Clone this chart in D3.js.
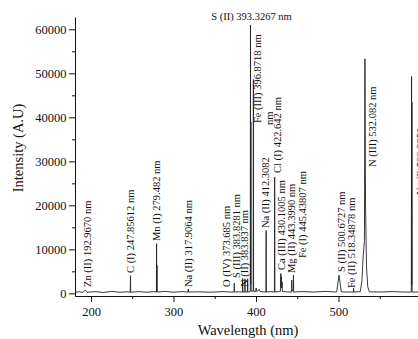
<!DOCTYPE html>
<html>
<head>
<meta charset="utf-8">
<script src="https://cdn.jsdelivr.net/npm/d3@7"></script>
<style>
  html, body { margin: 0; padding: 0; background: #fff; }
  svg { display: block; }
  svg text { font-family: 'Liberation Serif', 'DejaVu Serif', serif !important; }
</style>
</head>
<body>
<svg id="chart" width="418" height="339"></svg>
<script>
// Emission spectrum: [wavelength (nm), intensity (A.U)]
const spectrum = [
  [180.6, 250], [186, 350], [190, 200], [192.97, 700], [196, 250], [205, 400],
  [215, 200], [225, 450], [235, 250], [244, 350], [247.6, 250], [247.86, 4000],
  [248.1, 250], [258, 400], [268, 250], [276, 400], [279.3, 300], [279.48, 11300],
  [279.7, 400], [279.95, 6400], [280.2, 300], [290, 450], [300, 250], [310, 400],
  [317.6, 300], [317.9, 1000], [318.2, 300], [330, 350], [345, 250], [360, 400],
  [370, 300], [373.5, 300], [373.69, 2300], [373.9, 300], [380, 350], [383.6, 300],
  [383.83, 3400], [384.1, 300], [386.5, 300], [386.7, 3300], [386.9, 300],
  [389.7, 300], [389.9, 3300], [390.1, 300], [393.1, 400], [393.33, 61000],
  [393.55, 2000], [393.8, 39000], [394.1, 500], [396.6, 500], [396.87, 48600],
  [397.1, 500], [399.5, 400], [400.2, 1200], [401, 400], [404, 900], [405, 400],
  [412.1, 300], [412.31, 14300], [412.5, 300], [418, 400], [422.4, 300],
  [422.64, 26400], [422.9, 300], [427, 400], [429.6, 400], [429.9, 3500],
  [430.1, 4500], [430.4, 1500], [430.8, 3800], [431.2, 1200], [431.6, 2600],
  [432, 400], [438, 350], [443.2, 300], [443.4, 3000], [443.6, 600], [445.2, 600],
  [445.44, 4100], [445.7, 300], [455, 400], [470, 300], [485, 450], [495, 300],
  [497.8, 350], [499.5, 2600], [500.67, 4100], [501.8, 2500], [503.5, 350],
  [510, 300], [518.1, 300], [518.35, 1200], [518.6, 300], [524, 350], [526.5, 400],
  [528.5, 3000], [529.8, 8000], [531.5, 12000], [532.08, 53300], [532.8, 20000],
  [534, 6000], [535.5, 1500], [537.5, 350], [550, 300], [565, 400], [580, 300],
  [588.3, 300], [588.6, 49300], [588.8, 2000], [589.0, 43400], [589.3, 300],
  [596.4, 300]
];

// Line identifications: label text and wavelength (nm)
const lineLabels = [
  "Zn (II) 192.9670 nm", "C (I) 247.85612 nm", "Mn (I) 279.482 nm",
  "Na (II) 317.9064 nm", "O (IV) 373.685 nm", "S (III) 383.8281 nm",
  "N (II) 383.837 nm", "Fe (III) 396.8718 nm", "Na (II) 412.3082 nm",
  "Cl (I) 422.642 nm", "Ca (III) 430.1005 nm", "Mg (II) 443.3990 nm",
  "Fe (I) 445.43807 nm", "S (II) 500.6727 nm", "Fe (II) 518.34878 nm",
  "N (III) 532.082 nm", "Na (I) 588.9950 nm"
];
const lineWavelengths = [
  192.967, 247.85612, 279.482, 317.9064, 373.685, 383.8281, 383.837, 396.8718,
  412.3082, 422.642, 430.1005, 443.399, 445.43807, 500.6727, 518.34878, 532.082,
  588.995
];
const strongestLabel = "S (II) 393.3267 nm";
const strongestWavelength = 393.3267;

const xTicks = [200, 300, 400, 500];
const xMinorTicks = [250, 350, 450, 550];
const yTicks = [0, 10000, 20000, 30000, 40000, 50000, 60000];
const yMinorTicks = [5000, 15000, 25000, 35000, 45000, 55000];

// ---- layout ----
const svg = d3.select("#chart");
const plotLeft = 75, plotRight = 418, plotTop = 17, plotBottom = 296;
const serif = "'Liberation Serif', 'DejaVu Serif', serif";

const x = d3.scaleLinear().domain([180.6, 596.4]).range([plotLeft, plotRight]);
const y = d3.scaleLinear().domain([-600, 62800]).range([plotBottom, plotTop]);

const ink = "#111";

// spectrum trace
svg.append("path")
  .datum(spectrum)
  .attr("fill", "none")
  .attr("stroke", "#222")
  .attr("stroke-width", 0.9)
  .attr("stroke-linejoin", "round")
  .attr("d", d3.line().x(d => x(d[0])).y(d => y(d[1])));

// axes
function styleAxis(g) {
  g.attr("font-family", serif);
  g.selectAll("path, line").attr("stroke", ink).attr("stroke-width", 1);
  g.selectAll("text").attr("fill", ink).attr("font-size", "12.5px")
    .style("font-family", serif);
}

svg.append("g")
  .attr("transform", `translate(0,${plotBottom})`)
  .call(d3.axisBottom(x).tickValues(xMinorTicks).tickSize(3).tickFormat(""))
  .call(g => g.select(".domain").remove())
  .call(styleAxis);
svg.append("g")
  .attr("transform", `translate(0,${plotBottom})`)
  .call(d3.axisBottom(x).tickValues(xTicks).tickSize(6).tickSizeOuter(0).tickPadding(5))
  .call(styleAxis);

svg.append("g")
  .attr("transform", `translate(${plotLeft},0)`)
  .call(d3.axisLeft(y).tickValues(yMinorTicks).tickSize(3).tickFormat(""))
  .call(g => g.select(".domain").remove())
  .call(styleAxis);
svg.append("g")
  .attr("transform", `translate(${plotLeft},0)`)
  .call(d3.axisLeft(y).tickValues(yTicks).tickSize(6).tickSizeOuter(0).tickPadding(2.5)
    .tickFormat(d3.format("d")))
  .call(styleAxis);

// axis titles
svg.append("text")
  .attr("transform", "translate(23,148) rotate(-90)")
  .attr("text-anchor", "middle")
  .style("font-family", serif)
  .attr("font-size", "14.5px").attr("fill", ink)
  .text("Intensity (A.U)");
svg.append("text")
  .attr("x", 248).attr("y", 335)
  .attr("text-anchor", "middle")
  .style("font-family", serif)
  .attr("font-size", "14.5px").attr("fill", ink)
  .text("Wavelength (nm)");

// label placement: horizontal offset from the line (px) and bottom edge (px)
const labelPlace = [
  [3.1, 287], [0.5, 273], [0.7, 241], [0.7, 287], [-7.6, 287], [-5.4, 278],
  [2.3, 287], [4.9, 123], [-0.4, 228], [3.6, 173], [0.9, 270], [0.5, 273],
  [9.8, 258], [2.6, 272], [-1.5, 288], [8.3, 167], [9, 195]
];

const labelG = svg.append("g")
  .style("font-family", serif)
  .attr("font-size", "10.5px").attr("fill", ink);

lineLabels.forEach((txt, i) => {
  const [dx, yb] = labelPlace[i];
  const bx = x(lineWavelengths[i]) + dx + 3;
  const t = labelG.append("text")
    .attr("transform", `translate(${bx},${yb}) rotate(-90)`)
    .attr("text-anchor", "start");
  if (txt === "Na (II) 412.3082 nm") {
    t.text("Na (II) 412.3082");
    labelG.append("text")
      .attr("transform", `translate(${bx + 4},${yb - 103}) rotate(-90)`)
      .attr("text-anchor", "start")
      .text("nm");
  } else {
    t.text(txt);
  }
});

labelG.append("text")
  .attr("x", x(strongestWavelength) + 1)
  .attr("y", 20)
  .attr("text-anchor", "middle")
  .text(strongestLabel);
</script>
</body>
</html>
